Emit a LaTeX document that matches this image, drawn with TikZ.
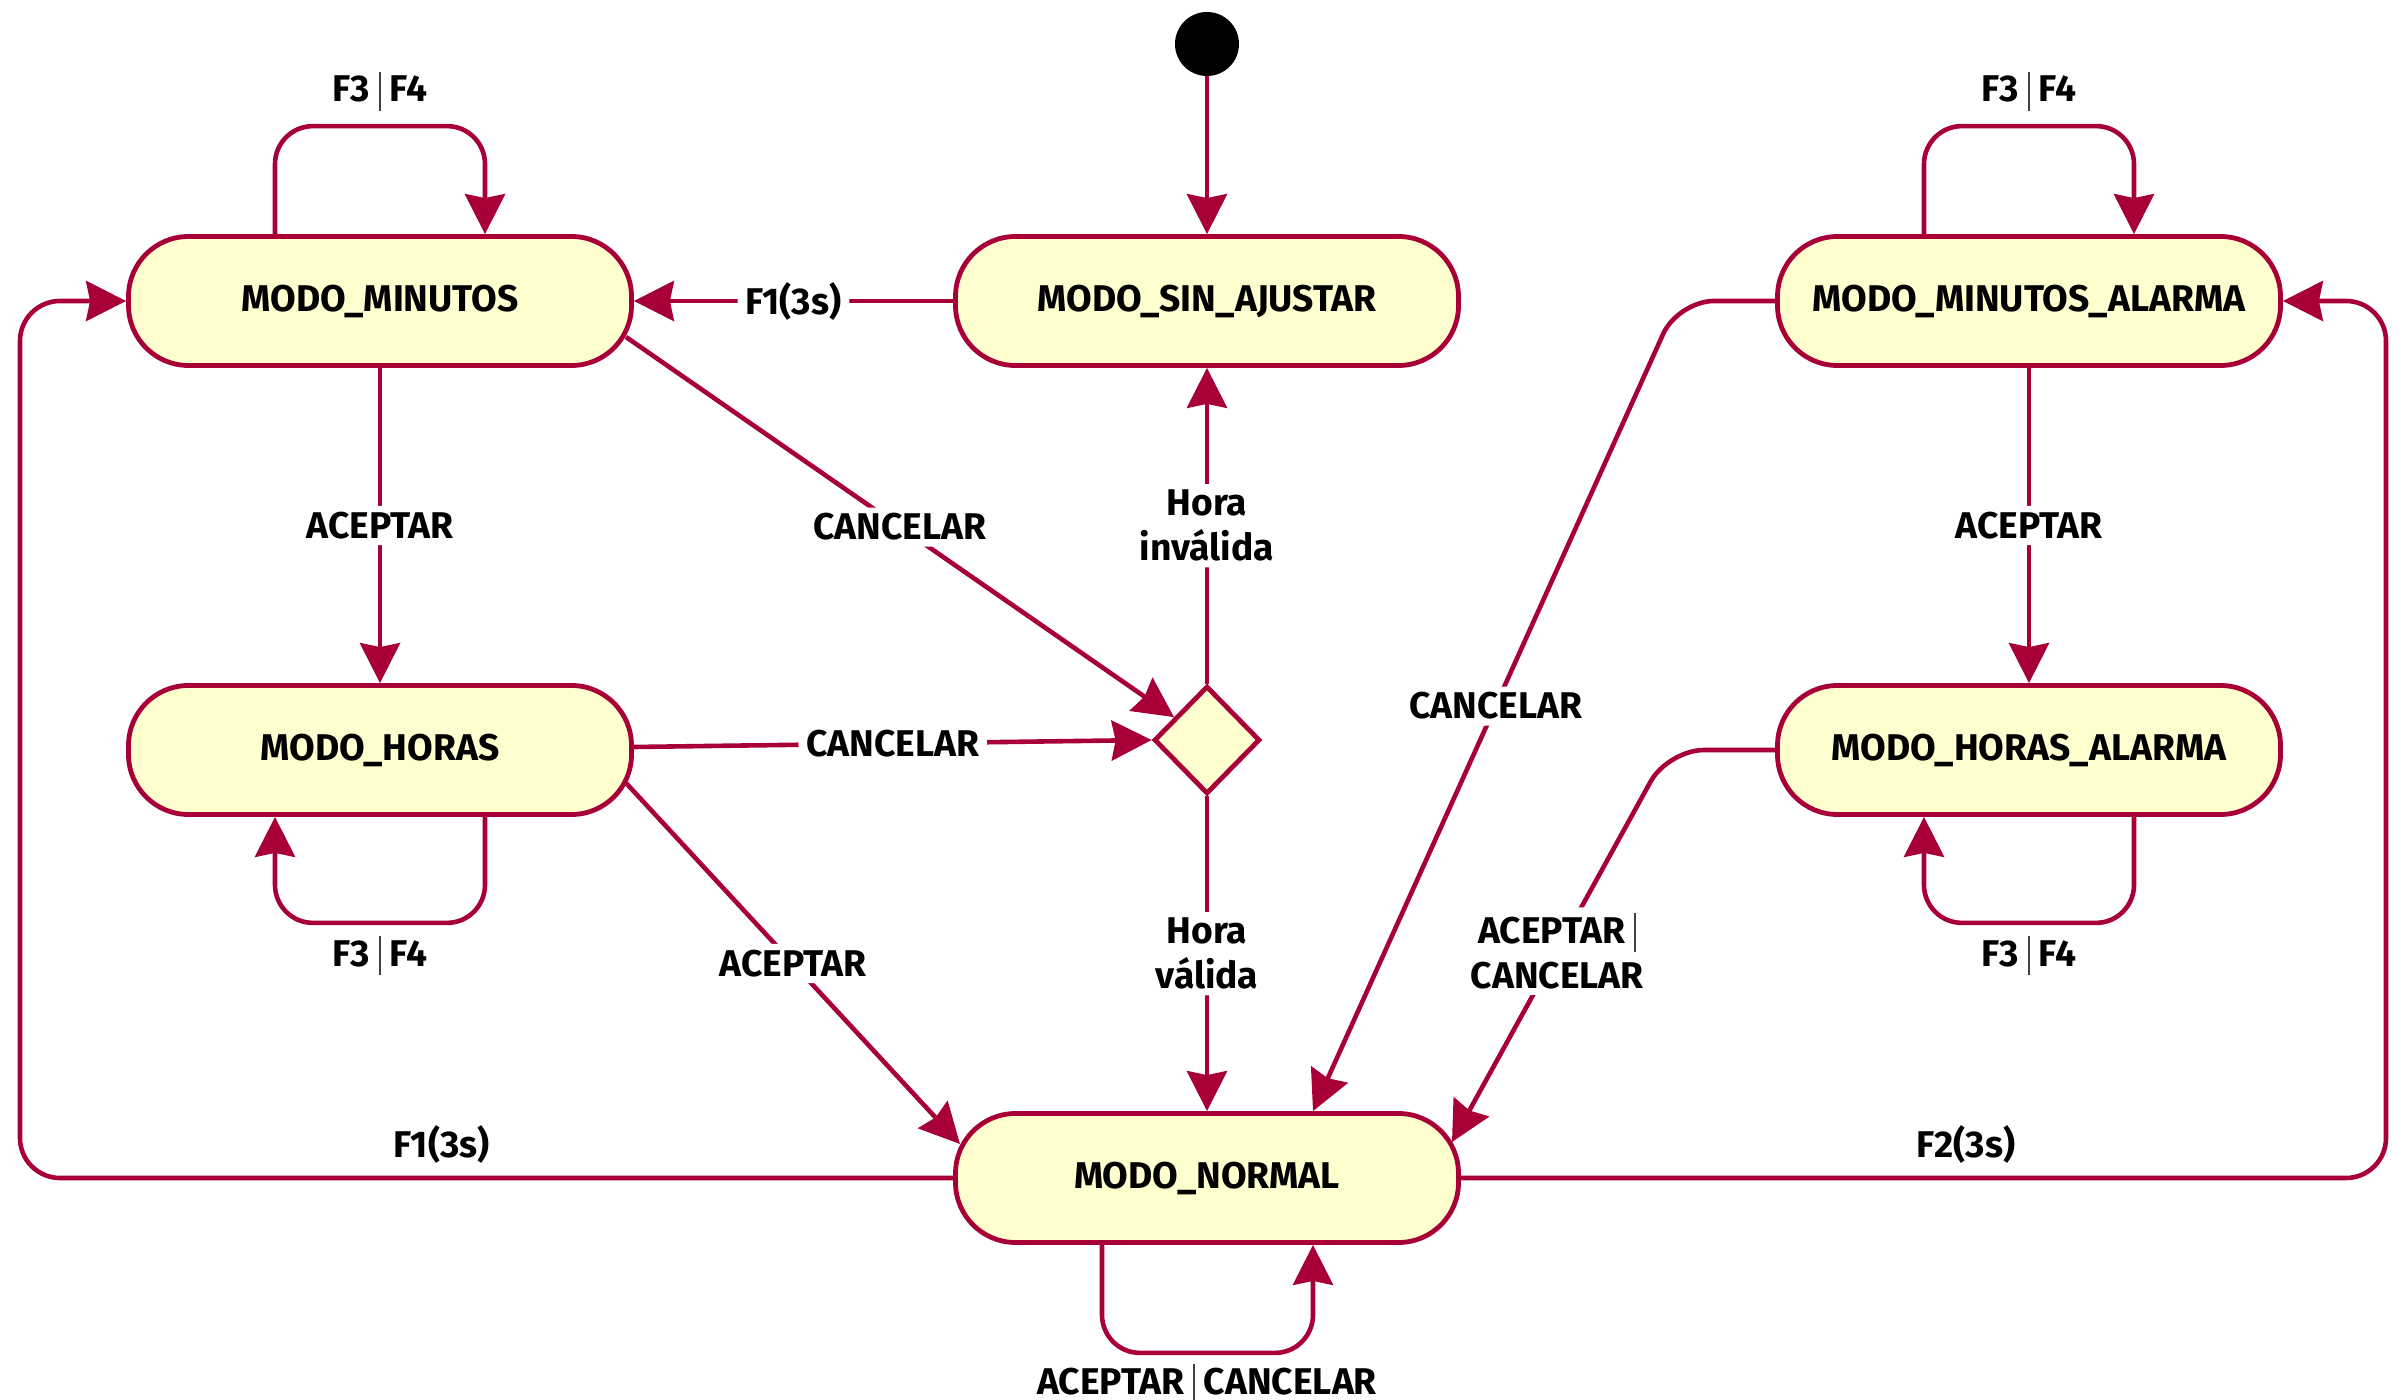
\documentclass[tikz,border=0pt]{standalone}
\usepackage{fontspec}
\setmainfont{Fira Sans}
\usetikzlibrary{arrows.meta,calc,shapes.geometric}
\definecolor{edgecol}{HTML}{A80036}
\definecolor{statefill}{HTML}{FEFECE}
\newcommand{\sepbar}{\hspace{4.5pt}{\color{black!75}\rule[-4.5pt]{0.9pt}{19.5pt}}\hspace{4.5pt}}
\begin{document}
\begin{tikzpicture}[x=0.5pt,y=-0.5pt,
  state/.style={draw=edgecol, line width=2.4pt, fill=statefill, rounded corners=30pt,
    minimum width=251.5pt, minimum height=64.5pt, inner sep=0pt,
    font=\bfseries\fontsize{18.6}{21}\selectfont},
  choice/.style={diamond, draw=edgecol, line width=2.4pt, fill=statefill,
    minimum width=53pt, minimum height=54pt, inner sep=0pt},
  init/.style={circle, fill=black, minimum size=32pt, inner sep=0pt},
  tr/.style={draw=edgecol, line width=2.3pt, -{Stealth[length=20pt,width=20pt,inset=2pt]}},
  lbl/.style={fill=white, rounded corners=10pt, inner xsep=4pt, inner ysep=3pt,
    font=\bfseries\fontsize{18.6}{22.5}\selectfont, align=center, text=black}
]
\useasboundingbox (0,0) rectangle (2405,1400);
\fill[white] (0,0) rectangle (2405,1400);

% states
\node[init] (start) at (1207,44) {};
\node[state] (sin) at (1207,301) {MODO\_SIN\_AJUSTAR};
\node[state] (min) at (380,301) {MODO\_MINUTOS};
\node[state] (ma) at (2029,301) {MODO\_MINUTOS\_ALARMA};
\node[state] (hor) at (380,750) {MODO\_HORAS};
\node[state] (ha) at (2029,750) {MODO\_HORAS\_ALARMA};
\node[choice] (dec) at (1207,740) {};
\node[state] (nor) at (1207,1178) {MODO\_NORMAL};

% helper coordinates
\coordinate (ll) at (20,1178);
\coordinate (ul) at (20,301);
\coordinate (lr) at (2386,1178);
\coordinate (ur) at (2386,301);
\coordinate (mac) at (1678,301);
\coordinate (hac) at (1668,750);

% transitions
\draw[tr] (start) -- (sin);
\draw[tr] (sin) -- node[lbl]{F1(3s)} (min);

\draw[tr, rounded corners=19pt] ($(min.north)+(-105,0)$) |- ($(min.north)+(0,-108)$)
  node[lbl, yshift=17.5pt]{F3\sepbar F4} -| ($(min.north)+(105,0)$);
\draw[tr, rounded corners=19pt] ($(ma.north)+(-105,0)$) |- ($(ma.north)+(0,-108)$)
  node[lbl, yshift=17.5pt]{F3\sepbar F4} -| ($(ma.north)+(105,0)$);
\draw[tr, rounded corners=19pt] ($(hor.south)+(105,0)$) |- ($(hor.south)+(0,106)$)
  node[lbl, yshift=-16.5pt]{F3\sepbar F4} -| ($(hor.south)+(-105,0)$);
\draw[tr, rounded corners=19pt] ($(ha.south)+(105,0)$) |- ($(ha.south)+(0,106)$)
  node[lbl, yshift=-16.5pt]{F3\sepbar F4} -| ($(ha.south)+(-105,0)$);
\draw[tr, rounded corners=19pt] ($(nor.south)+(-105,0)$) |- ($(nor.south)+(0,108)$)
  node[lbl, yshift=-15.5pt]{ACEPTAR\sepbar CANCELAR} -| ($(nor.south)+(106,0)$);

\draw[tr] (min) -- node[lbl]{ACEPTAR} (hor);
\draw[tr] (ma) -- node[lbl]{ACEPTAR} (ha);
\draw[tr] ($(min.center)+(246,36)$) -- node[lbl]{CANCELAR} (dec);
\draw[tr] ($(hor.east)+(0,-3)$) -- node[lbl]{CANCELAR} (dec.west);
\draw[tr] ($(hor.center)+(246,33)$) -- node[lbl]{ACEPTAR} ($(nor.center)+(-247,-34)$);
\draw[tr] (dec) -- node[lbl]{Hora\\inválida} (sin);
\draw[tr] (dec) -- node[lbl]{Hora\\válida} (nor);

\draw[tr, rounded corners=20pt] (nor.west) -- node[pos=0.548, lbl, yshift=17pt]{F1(3s)} (ll) -- (ul) -- (min.west);
\draw[tr, rounded corners=20pt] (nor.east) -- node[pos=0.546, lbl, yshift=17pt]{F2(3s)} (lr) -- (ur) -- (ma.east);

\draw[tr, rounded corners=18pt] (ma.west) -- (mac) -- node[lbl]{CANCELAR} ($(nor.north)+(106,0)$);
\draw[tr, rounded corners=18pt] (ha.west) -- (hac) -- node[lbl, pos=0.513]{ACEPTAR\sepbar\\CANCELAR} ($(nor.center)+(245,-36)$);
\end{tikzpicture}
\end{document}
